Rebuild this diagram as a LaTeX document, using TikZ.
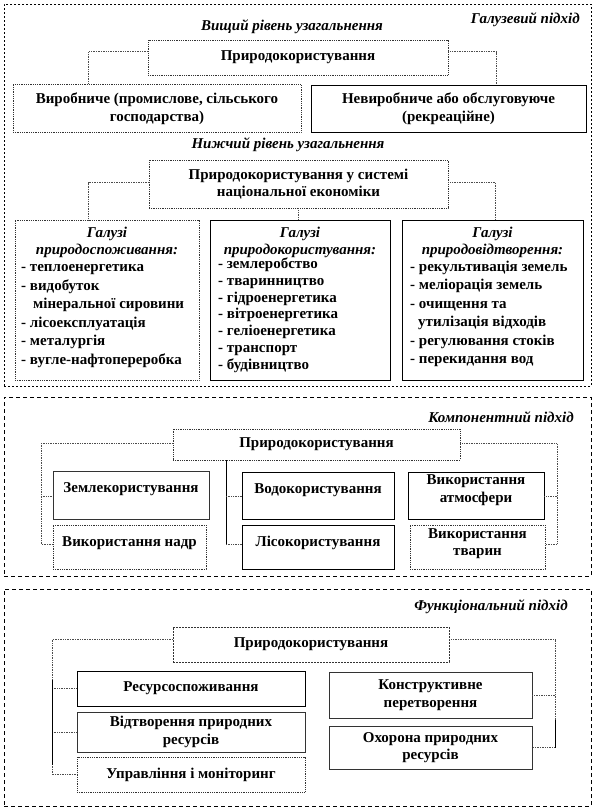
\documentclass[tikz,border=0pt]{standalone}
\usepackage{fontspec}
\setmainfont{Liberation Serif}
\usetikzlibrary{calc}
\begin{document}
\begin{tikzpicture}[x=1pt,y=-1pt,
  every node/.style={font=\fontsize{15}{17.5}\selectfont\bfseries, inner sep=0pt},
  sbox/.style={draw=black, line width=0.7pt, rectangle, align=center},
  dbox/.style={draw=black!80, line width=0.8pt, densely dotted, rectangle, align=center},
  conn/.style={draw=black!70, line width=0.7pt, densely dotted},
  sconn/.style={draw=black, line width=0.7pt},
  frameA/.style={draw=black, line width=0.6pt, dash pattern=on 2pt off 2pt, rectangle},
  frameB/.style={draw=black, line width=0.6pt, dash pattern=on 4pt off 3pt, rectangle},
  heading/.style={font=\fontsize{15}{17}\selectfont\bfseries\itshape},
  item/.style={anchor=west, text height=10pt, text depth=3pt},
  upone/.style={text height=10pt, text depth=15pt},
  uptwo/.style={text height=10pt, text depth=11pt},
]
\useasboundingbox (0,0) rectangle (594,812);
\fill[white] (0,0) rectangle (594,812);

% ---------- Frame 1 ----------
\node[frameA, minimum width=587pt, minimum height=382pt] (F1) at (297.5,195) {};
\node[heading, anchor=east] (h1) at (580,20) {Галузевий підхід};
\node[heading] (v1) at (292,27) {Вищий рівень узагальнення};
\node[dbox, minimum width=300pt, minimum height=35pt] (B1) at (298,57.5) {Природокористування};
\node[dbox, minimum width=288pt, minimum height=48pt] (B2) at (157,108.5) {Виробниче (промислове, сільського\\господарства)};
\node[sbox, minimum width=275pt, minimum height=47pt] (B3) at (448.5,108.5) {Невиробниче або обслуговуюче\\(рекреаційне)};
\node[heading] (v2) at (288,145) {Нижчий рівень узагальнення};
\node[dbox, minimum width=299pt, minimum height=48pt] (B4) at (298.5,184) {Природокористування у системі\\національної економіки};
\node[dbox, minimum width=184pt, minimum height=160pt] (G1) at (107,300) {};
\node[sbox, minimum width=180pt, minimum height=160pt] (G2) at (300,300) {};
\node[sbox, minimum width=181pt, minimum height=160pt] (G3) at (492.5,300) {};
\node[heading, align=center, anchor=north] (t1) at ([yshift=-7pt]G1.north) {Галузі\\природоспоживання:};
\node[heading, align=center, anchor=north] (t2) at ([yshift=-7pt]G2.north) {Галузі\\природокористування:};
\node[heading, align=center, anchor=north] (t3) at ([yshift=-7pt]G3.north) {Галузі\\природовідтворення:};
\foreach \t [count=\i] in {- теплоенергетика, - видобуток, \hspace*{12pt}мінеральної сировини, - лісоексплуатація, - металургія, - вугле-нафтопереробка}
  \node[item] (ga\i) at (21,{268+(\i-1)*18.6}) {\t};
\foreach \t [count=\i] in {- землеробство, - тваринництво, - гідроенергетика, - вітроенергетика, - геліоенергетика, - транспорт, - будівництво}
  \node[item] (gb\i) at (218,{265+(\i-1)*16.8}) {\t};
\foreach \t [count=\i] in {- рекультивація земель, - меліорація земель, - очищення та, \hspace*{8pt}утилізація відходів, - регулювання стоків, - перекидання вод}
  \node[item] (gc\i) at (410,{268+(\i-1)*18.4}) {\t};
\draw[conn] ([yshift=-12pt]B1.north west) -| ([xshift=76pt]B2.north west);
\draw[conn] ([yshift=-12pt]B1.north east) -| ([xshift=186pt]B3.north west);
\draw[conn] ([yshift=-23pt]B4.north west) -| ([xshift=74pt]G1.north west);
\draw[conn] ([yshift=-23pt]B4.north east) -| ([xshift=94pt]G3.north west);
\draw[conn] (B4.south) -- (B4.south |- G2.north);

% ---------- Frame 2 ----------
\node[frameB, minimum width=587pt, minimum height=179pt] (F2) at (297.5,486.5) {};
\node[heading, anchor=east] (h2) at (574,417) {Компонентний підхід};
\node[dbox, minimum width=287pt, minimum height=31pt] (C0) at (316.5,444.5) {Природокористування};
\node[sbox, draw=black!80, upone, minimum width=156pt, minimum height=48pt] (C1) at (131,495) {Землекористування};
\node[sbox, upone, minimum width=152pt, minimum height=47pt] (C2) at (318,495.5) {Водокористування};
\node[sbox, text depth=14pt, minimum width=136pt, minimum height=47pt] (C3) at (476,495.5) {Використання\\атмосфери};
\node[dbox, uptwo, minimum width=153pt, minimum height=44pt] (C4) at (129.5,547) {Використання надр};
\node[sbox, uptwo, minimum width=152pt, minimum height=44pt] (C5) at (318,547) {Лісокористування};
\node[dbox, text depth=10pt, minimum width=135pt, minimum height=44pt] (C6) at (477.5,547) {Використання\\тварин};
\coordinate (cL) at (41,0);
\coordinate (cR) at (557,0);
\coordinate (cM) at (226,0);
\draw[conn] ([yshift=-15pt]C0.north west) -| (cL |- 0,544) -- (C4.west |- 0,544);
\draw[conn] (cL |- 0,496) -- (C1.west |- 0,496);
\draw[conn] ([yshift=-15pt]C0.north east) -| (cR |- 0,544) -- (C6.east |- 0,544);
\draw[conn] (cR |- 0,496) -- (C3.east |- 0,496);
\draw[sconn] (C0.south -| cM) -- (cM |- 0,544);
\draw[conn] (cM |- 0,544) -- (C5.west |- 0,544);
\draw[conn] (cM |- 0,496) -- (C2.west |- 0,496);

% ---------- Frame 3 ----------
\node[frameB, minimum width=587pt, minimum height=217pt] (F3) at (297.5,697.5) {};
\node[heading, anchor=east] (h3) at (568,607) {Функціональний підхід};
\node[dbox, dash pattern=on 2pt off 1pt, minimum width=276pt, minimum height=35pt] (D0) at (311,644.5) {Природокористування};
\node[sbox, minimum width=228pt, minimum height=35pt] (D1) at (191,688.5) {Ресурсоспоживання};
\node[sbox, draw=black!80, minimum width=228pt, minimum height=40pt] (D2) at (191,732) {Відтворення природних\\ресурсів};
\node[dbox, minimum width=228pt, minimum height=35pt] (D3) at (191,774.5) {Управління і моніторинг};
\node[sbox, draw=black!80, minimum width=203pt, minimum height=46pt] (D4) at (430.5,695) {Конструктивне\\перетворення};
\node[sbox, draw=black!80, minimum width=203pt, minimum height=43pt] (D5) at (430.5,747.5) {Охорона природних\\ресурсів};
\coordinate (dL) at (52,0);
\coordinate (dR) at (555,0);
\draw[conn] ([yshift=-13pt]D0.north west) -| (D3.west -| dL) -- (D3.west);
\draw[conn] (D1.west -| dL) -- (D1.west);
\draw[conn] (D2.west -| dL) -- (D2.west);
\draw[sconn] (dL |- 0,680) -- (dL |- 0,765);
\draw[conn] ([yshift=-13pt]D0.north east) -| (D5.east -| dR) -- (D5.east);
\draw[conn] (D4.east -| dR) -- (D4.east);
\draw[sconn] (dR |- 0,720) -- (D5.east -| dR);
\end{tikzpicture}
\end{document}
